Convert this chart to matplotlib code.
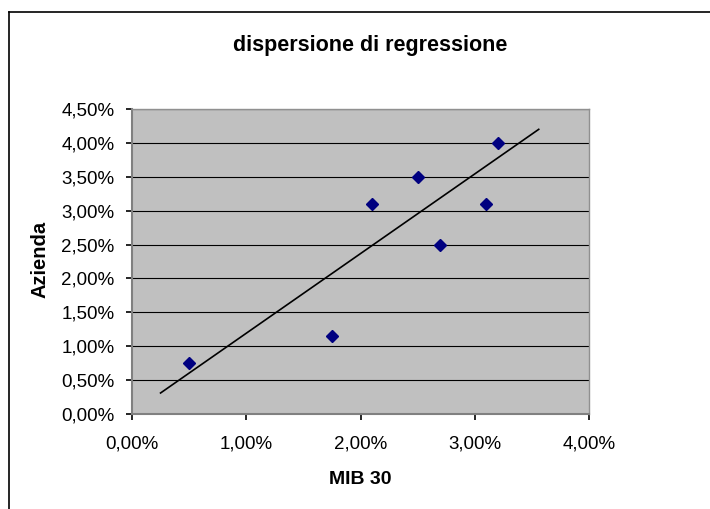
import matplotlib
matplotlib.use("Agg")
import matplotlib.pyplot as plt
from matplotlib.ticker import FuncFormatter, MultipleLocator
from matplotlib.lines import Line2D

# values in percent
mib30 = [0.50, 1.75, 2.10, 2.50, 2.70, 3.10, 3.20]
azienda = [0.75, 1.15, 3.10, 3.50, 2.50, 3.10, 4.00]
trend_x = [0.25, 3.56]
trend_y = [0.31, 4.20]

plt.rcParams['font.family'] = ['Liberation Sans', 'DejaVu Sans']

fig = plt.figure(figsize=(7.10, 5.09), dpi=100)
ax = fig.add_axes([132 / 710, 1 - 414 / 509, (589 - 132) / 710, (414 - 109) / 509])

ax.set_facecolor('#c0c0c0')
ax.set_axisbelow(True)
ax.yaxis.grid(True, color='black', linewidth=0.8)

ax.plot(trend_x, trend_y, color='black', linewidth=1.2, zorder=2)
ax.plot(mib30, azienda, linestyle='none', marker='D', markersize=6,
        color='#000080', zorder=3)

ax.set_xlim(0, 4)
ax.set_ylim(0, 4.5)
ax.xaxis.set_major_locator(MultipleLocator(1))
ax.yaxis.set_major_locator(MultipleLocator(0.5))

fmt = FuncFormatter(lambda v, p: f"{v:.2f}%".replace('.', ','))
ax.xaxis.set_major_formatter(fmt)
ax.yaxis.set_major_formatter(fmt)

for s in ['top', 'right']:
    ax.spines[s].set_color('#909090')
    ax.spines[s].set_linewidth(1.0)
for s in ['left', 'bottom']:
    ax.spines[s].set_color('#808080')
    ax.spines[s].set_linewidth(1.5)

ax.tick_params(axis='x', direction='out', length=4.5, width=1.2, color='black',
               labelsize=13.5, pad=11)
ax.tick_params(axis='y', direction='out', length=4.5, width=1.2, color='black',
               labelsize=13.5, pad=8)

fig.text(370 / 710, 1 - 45 / 509, 'dispersione di regressione',
         ha='center', va='center', fontsize=15.5, fontweight='bold')
fig.text(360 / 710, 1 - 480 / 509, 'MIB 30',
         ha='center', va='center', fontsize=14, fontweight='bold')
fig.text(40 / 710, 1 - 259 / 509, 'Azienda', rotation=90,
         ha='center', va='center', fontsize=14.5, fontweight='bold')

# chart border (only left and top fall inside the image)
fig.add_artist(Line2D([8.5 / 710, 8.5 / 710], [0, 1 - 12 / 509],
                      transform=fig.transFigure, color='black', linewidth=1.2))
fig.add_artist(Line2D([8.5 / 710, 1], [1 - 12 / 509, 1 - 12 / 509],
                      transform=fig.transFigure, color='black', linewidth=1.2))

fig.savefig('out.png', dpi=100)
